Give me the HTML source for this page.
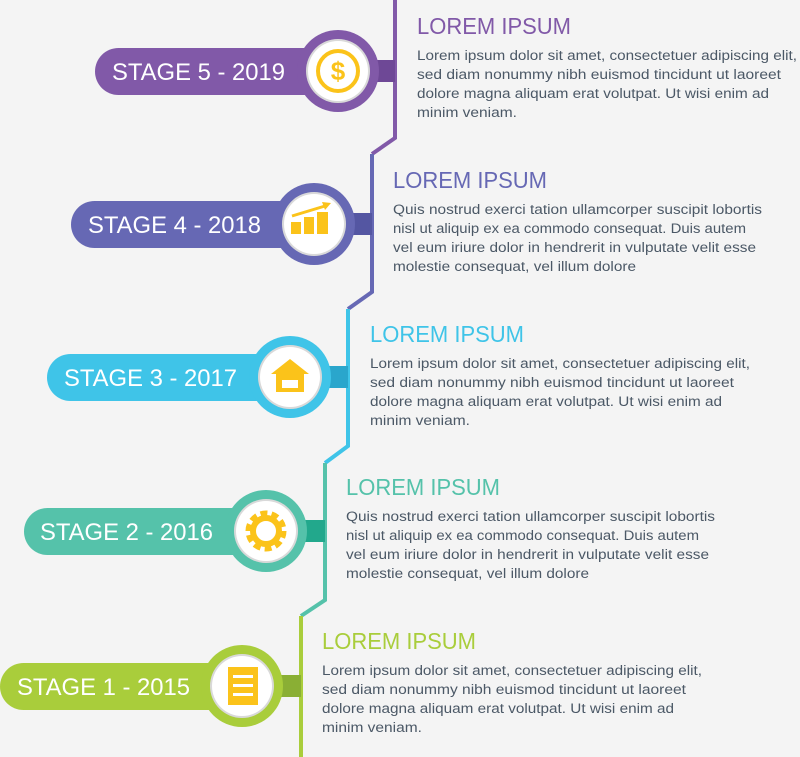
<!DOCTYPE html>
<html><head><meta charset="utf-8"><style>
html,body{margin:0;padding:0;background:#f4f4f4;}
svg{display:block}
.t{font-family:"Liberation Sans",sans-serif;font-size:23px;}
.b{font-family:"Liberation Sans",sans-serif;font-size:13.5px;fill:#4b5866;}
.s{font-family:"Liberation Sans",sans-serif;font-size:24px;fill:#fff;}
</style></head><body>
<svg width="800" height="757" viewBox="0 0 800 757" xmlns="http://www.w3.org/2000/svg">
<rect width="800" height="757" fill="#f4f4f4"/>
<!-- timeline lines -->
<polyline points="395,0 395,138 372,154" fill="none" stroke="#8159a8" stroke-width="4"/>
<polyline points="372,154 372,292 348,309" fill="none" stroke="#6668b4" stroke-width="4"/>
<polyline points="348,309 348,446 325,463" fill="none" stroke="#3fc4e8" stroke-width="4"/>
<polyline points="325,463 325,600 301,616" fill="none" stroke="#55c2aa" stroke-width="4"/>
<polyline points="301,616 301,757" fill="none" stroke="#a9cd3b" stroke-width="4"/>

<!-- Stage 5 -->
<g>
<rect x="95" y="48" width="240" height="47" rx="23.5" fill="#8159a8"/>
<rect x="370" y="60" width="25" height="22" fill="#6e4896"/>
<circle cx="338" cy="71" r="41" fill="#8159a8"/>
<circle cx="338" cy="71" r="32" fill="#d9d9d9"/>
<circle cx="338" cy="71" r="30" fill="#fff"/>
<circle cx="338" cy="71" r="20" fill="none" stroke="#fbc31a" stroke-width="4"/>
<text x="338" y="80" text-anchor="middle" font-family="Liberation Sans" font-weight="bold" font-size="26" fill="#fbc31a">$</text>
<text class="s" x="112" y="80" textLength="173" lengthAdjust="spacingAndGlyphs">STAGE 5 - 2019</text>
<text class="t" x="417" y="34" fill="#8159a8" textLength="154" lengthAdjust="spacingAndGlyphs">LOREM IPSUM</text>
<text class="b"><tspan x="417" y="60" textLength="380" lengthAdjust="spacingAndGlyphs">Lorem ipsum dolor sit amet, consectetuer adipiscing elit,</tspan><tspan x="417" y="79" textLength="364" lengthAdjust="spacingAndGlyphs">sed diam nonummy nibh euismod tincidunt ut laoreet</tspan><tspan x="417" y="98" textLength="352" lengthAdjust="spacingAndGlyphs">dolore magna aliquam erat volutpat. Ut wisi enim ad</tspan><tspan x="417" y="117" textLength="100" lengthAdjust="spacingAndGlyphs">minim veniam.</tspan></text>
</g>

<!-- Stage 4 -->
<g>
<rect x="71" y="201" width="240" height="47" rx="23.5" fill="#6668b4"/>
<rect x="346" y="213" width="26" height="22" fill="#5456a2"/>
<circle cx="314" cy="224" r="41" fill="#6668b4"/>
<circle cx="314" cy="224" r="32" fill="#d9d9d9"/>
<circle cx="314" cy="224" r="30" fill="#fff"/>
<rect x="291" y="222" width="10" height="12" fill="#fbc31a"/>
<rect x="304" y="217" width="10" height="17" fill="#fbc31a"/>
<rect x="317" y="212" width="11" height="22" fill="#fbc31a"/>
<line x1="292" y1="216" x2="325" y2="206" stroke="#fbc31a" stroke-width="3"/>
<polygon points="331,203 322,202 325,210" fill="#fbc31a"/>
<text class="s" x="88" y="233" textLength="173" lengthAdjust="spacingAndGlyphs">STAGE 4 - 2018</text>
<text class="t" x="393" y="188" fill="#6668b4" textLength="154" lengthAdjust="spacingAndGlyphs">LOREM IPSUM</text>
<text class="b"><tspan x="393" y="214" textLength="369" lengthAdjust="spacingAndGlyphs">Quis nostrud exerci tation ullamcorper suscipit lobortis</tspan><tspan x="393" y="233" textLength="353" lengthAdjust="spacingAndGlyphs">nisl ut aliquip ex ea commodo consequat. Duis autem</tspan><tspan x="393" y="252" textLength="363" lengthAdjust="spacingAndGlyphs">vel eum iriure dolor in hendrerit in vulputate velit esse</tspan><tspan x="393" y="271" textLength="243" lengthAdjust="spacingAndGlyphs">molestie consequat, vel illum dolore</tspan></text>
</g>

<!-- Stage 3 -->
<g>
<rect x="47" y="354" width="240" height="47" rx="23.5" fill="#3fc4e8"/>
<rect x="322" y="366" width="26" height="22" fill="#2aa6cc"/>
<circle cx="290" cy="377" r="41" fill="#3fc4e8"/>
<circle cx="290" cy="377" r="32" fill="#d9d9d9"/>
<circle cx="290" cy="377" r="30" fill="#fff"/>
<polygon points="290,359 271,374 276,374 276,392 304,392 304,374 309,374" fill="#fbc31a"/>
<rect x="282" y="380" width="16" height="8" fill="#fff"/>
<text class="s" x="64" y="386" textLength="173" lengthAdjust="spacingAndGlyphs">STAGE 3 - 2017</text>
<text class="t" x="370" y="342" fill="#3fc4e8" textLength="154" lengthAdjust="spacingAndGlyphs">LOREM IPSUM</text>
<text class="b"><tspan x="370" y="368" textLength="380" lengthAdjust="spacingAndGlyphs">Lorem ipsum dolor sit amet, consectetuer adipiscing elit,</tspan><tspan x="370" y="387" textLength="364" lengthAdjust="spacingAndGlyphs">sed diam nonummy nibh euismod tincidunt ut laoreet</tspan><tspan x="370" y="406" textLength="352" lengthAdjust="spacingAndGlyphs">dolore magna aliquam erat volutpat. Ut wisi enim ad</tspan><tspan x="370" y="425" textLength="100" lengthAdjust="spacingAndGlyphs">minim veniam.</tspan></text>
</g>

<!-- Stage 2 -->
<g>
<rect x="24" y="508" width="240" height="47" rx="23.5" fill="#55c2aa"/>
<rect x="299" y="520" width="26" height="22" fill="#22a88c"/>
<circle cx="266" cy="531" r="41" fill="#55c2aa"/>
<circle cx="266" cy="531" r="32" fill="#d9d9d9"/>
<circle cx="266" cy="531" r="30" fill="#fff"/>
<circle cx="266" cy="531" r="18" fill="none" stroke="#fbc31a" stroke-width="5" stroke-dasharray="7 4.3"/>
<circle cx="266" cy="531" r="13" fill="none" stroke="#fbc31a" stroke-width="6"/>
<text class="s" x="40" y="540" textLength="173" lengthAdjust="spacingAndGlyphs">STAGE 2 - 2016</text>
<text class="t" x="346" y="495" fill="#55c2aa" textLength="154" lengthAdjust="spacingAndGlyphs">LOREM IPSUM</text>
<text class="b"><tspan x="346" y="521" textLength="369" lengthAdjust="spacingAndGlyphs">Quis nostrud exerci tation ullamcorper suscipit lobortis</tspan><tspan x="346" y="540" textLength="353" lengthAdjust="spacingAndGlyphs">nisl ut aliquip ex ea commodo consequat. Duis autem</tspan><tspan x="346" y="559" textLength="363" lengthAdjust="spacingAndGlyphs">vel eum iriure dolor in hendrerit in vulputate velit esse</tspan><tspan x="346" y="578" textLength="243" lengthAdjust="spacingAndGlyphs">molestie consequat, vel illum dolore</tspan></text>
</g>

<!-- Stage 1 -->
<g>
<rect x="0" y="663" width="240" height="47" rx="23.5" fill="#a9cd3b"/>
<rect x="275" y="675" width="26" height="22" fill="#8aaf34"/>
<circle cx="242" cy="686" r="41" fill="#a9cd3b"/>
<circle cx="242" cy="686" r="32" fill="#d9d9d9"/>
<circle cx="242" cy="686" r="30" fill="#fff"/>
<rect x="228" y="667" width="30" height="38" fill="#fbc31a"/>
<rect x="233" y="675" width="20" height="3" fill="#fff"/>
<rect x="233" y="684" width="20" height="3" fill="#fff"/>
<rect x="233" y="693" width="20" height="3" fill="#fff"/>
<text class="s" x="17" y="695" textLength="173" lengthAdjust="spacingAndGlyphs">STAGE 1 - 2015</text>
<text class="t" x="322" y="649" fill="#a9cd3b" textLength="154" lengthAdjust="spacingAndGlyphs">LOREM IPSUM</text>
<text class="b"><tspan x="322" y="675" textLength="380" lengthAdjust="spacingAndGlyphs">Lorem ipsum dolor sit amet, consectetuer adipiscing elit,</tspan><tspan x="322" y="694" textLength="364" lengthAdjust="spacingAndGlyphs">sed diam nonummy nibh euismod tincidunt ut laoreet</tspan><tspan x="322" y="713" textLength="352" lengthAdjust="spacingAndGlyphs">dolore magna aliquam erat volutpat. Ut wisi enim ad</tspan><tspan x="322" y="732" textLength="100" lengthAdjust="spacingAndGlyphs">minim veniam.</tspan></text>
</g>
</svg>
</body></html>
